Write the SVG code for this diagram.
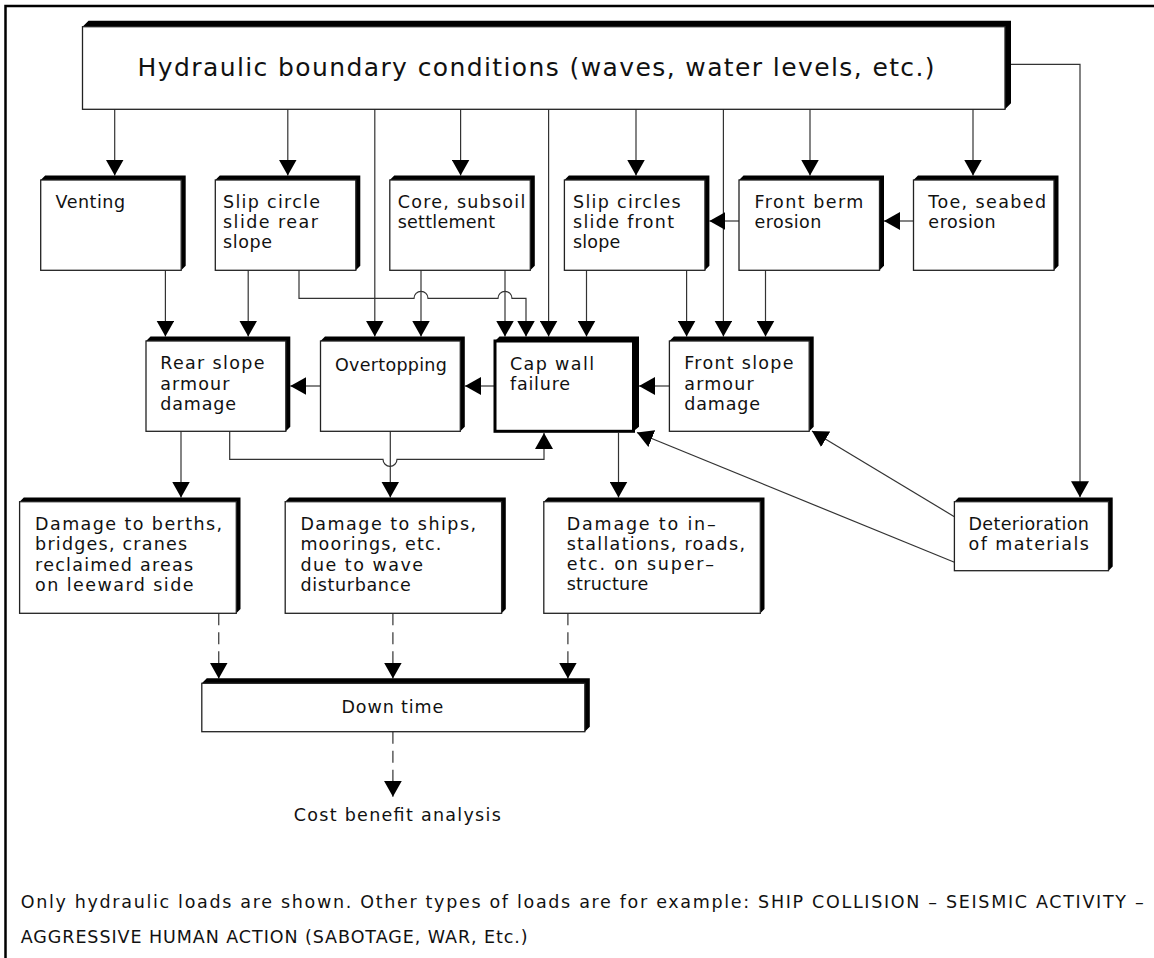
<svg xmlns="http://www.w3.org/2000/svg" width="1154" height="958" viewBox="0 0 1154 958">
<style>
.sh{fill:#000}
.bd{fill:#fff;stroke:#222;stroke-width:1.3}
.bdk{fill:#fff;stroke:#000;stroke-width:3}
.t{font-family:"DejaVu Sans","Liberation Sans",Arial,sans-serif;font-size:17.5px;fill:#111}
.tl{font-family:"DejaVu Sans","Liberation Sans",Arial,sans-serif;font-size:25px;fill:#111}
.c{fill:none;stroke:#333;stroke-width:1.2}
.d{fill:none;stroke:#333;stroke-width:1.2;stroke-dasharray:12 7}
</style>
<defs>
<marker id="ah" viewBox="0 0 16 18" refX="16" refY="9" markerWidth="16" markerHeight="18" markerUnits="userSpaceOnUse" orient="auto">
<path d="M0,0 L16,9 L0,18 z" fill="#000"/>
</marker>
</defs>
<rect width="1154" height="958" fill="#fff"/>
<polyline points="5.5,958 5.5,6 1154,6" fill="none" stroke="#000" stroke-width="2.5"/>

<g id="connectors">
<path class="c" marker-end="url(#ah)" d="M114.7,109.3 V175.5"/>
<path class="c" marker-end="url(#ah)" d="M287.8,109.3 V175.5"/>
<path class="c" marker-end="url(#ah)" d="M374.8,109.3 V336.5"/>
<path class="c" marker-end="url(#ah)" d="M460.6,109.3 V175.5"/>
<path class="c" marker-end="url(#ah)" d="M548.6,109.3 V336.5"/>
<path class="c" marker-end="url(#ah)" d="M636,109.3 V175.5"/>
<path class="c" marker-end="url(#ah)" d="M723.4,109.3 V336.5"/>
<path class="c" marker-end="url(#ah)" d="M810,109.3 V175.5"/>
<path class="c" marker-end="url(#ah)" d="M973,109.3 V175.5"/>
<path class="c" marker-end="url(#ah)" d="M1011,64.3 H1080 V497.3"/>
<path class="c" marker-end="url(#ah)" d="M913.5,221 H884"/>
<path class="c" marker-end="url(#ah)" d="M739,221 H709.4"/>
<path class="c" marker-end="url(#ah)" d="M165.4,270.3 V336.5"/>
<path class="c" marker-end="url(#ah)" d="M248.2,270.3 V336.5"/>
<path class="c" marker-end="url(#ah)" d="M299,270.3 V298.3 H414 A7,7 0 0 1 428,298.3 H498 A7,7 0 0 1 512,298.3 H526 V336.5"/>
<path class="c" marker-end="url(#ah)" d="M421,270.3 V336.5"/>
<path class="c" marker-end="url(#ah)" d="M505,270.3 V336.5"/>
<path class="c" marker-end="url(#ah)" d="M586.5,270.3 V336.5"/>
<path class="c" marker-end="url(#ah)" d="M686.6,270.3 V336.5"/>
<path class="c" marker-end="url(#ah)" d="M765.5,270.3 V336.5"/>
<path class="c" marker-end="url(#ah)" d="M669.4,386 H639"/>
<path class="c" marker-end="url(#ah)" d="M495,386 H465"/>
<path class="c" marker-end="url(#ah)" d="M320.5,386 H290.3"/>
<path class="c" marker-end="url(#ah)" d="M181,431.3 V497.5"/>
<path class="c" marker-end="url(#ah)" d="M229.7,431.3 V459.3 H383 A7,7 0 0 0 397,459.3 H544 V433"/>
<path class="c" marker-end="url(#ah)" d="M390.3,431.3 V497.5"/>
<path class="c" marker-end="url(#ah)" d="M618.5,432.8 V497.5"/>
<path class="c" marker-end="url(#ah)" d="M954.4,516.7 L812,431"/>
<path class="c" marker-end="url(#ah)" d="M954.4,562.3 L637,432.5"/>
<path class="d" marker-end="url(#ah)" d="M218.75,613.3 V678.5"/>
<path class="d" marker-end="url(#ah)" d="M392.9,613.3 V678.5"/>
<path class="d" marker-end="url(#ah)" d="M567.9,613.3 V678.5"/>
<path class="d" marker-end="url(#ah)" d="M392.9,731.7 V796.7"/>
</g>

<g id="n-hydraulic">
<polygon class="sh" points="82.5,26.7 88.5,20.7 1011,20.7 1011,103.3 1005,109.3 1005,26.7"/>
<rect class="bd" x="82.5" y="26.7" width="922.5" height="82.6"/>
<text class="tl" x="137.6" y="76" textLength="797" lengthAdjust="spacing">Hydraulic boundary conditions (waves, water levels, etc.)</text>
</g>

<g id="n-venting">
<polygon class="sh" points="40.7,180 45.2,175.5 185.7,175.5 185.7,265.8 181.2,270.3 181.2,180"/>
<rect class="bd" x="40.7" y="180" width="140.5" height="90.3"/>
<text class="t" x="55.5" y="208.3" textLength="69.5" lengthAdjust="spacing">Venting</text>
</g>

<g id="n-slip-rear">
<polygon class="sh" points="215.3,180 219.8,175.5 360.3,175.5 360.3,265.8 355.8,270.3 355.8,180"/>
<rect class="bd" x="215.3" y="180" width="140.5" height="90.3"/>
<text class="t" x="223" y="208.3" textLength="97" lengthAdjust="spacing">Slip circle</text>
<text class="t" x="223" y="228.3" textLength="95" lengthAdjust="spacing">slide rear</text>
<text class="t" x="223" y="248.3" textLength="49" lengthAdjust="spacing">slope</text>
</g>

<g id="n-core">
<polygon class="sh" points="389.8,180 394.3,175.5 534.8,175.5 534.8,265.8 530.3,270.3 530.3,180"/>
<rect class="bd" x="389.8" y="180" width="140.5" height="90.3"/>
<text class="t" x="397.7" y="208.3" textLength="127.6" lengthAdjust="spacing">Core, subsoil</text>
<text class="t" x="397.7" y="228.3" textLength="97.3" lengthAdjust="spacing">settlement</text>
</g>

<g id="n-slip-front">
<polygon class="sh" points="564.4,180 568.9,175.5 709.4,175.5 709.4,265.8 704.9,270.3 704.9,180"/>
<rect class="bd" x="564.4" y="180" width="140.5" height="90.3"/>
<text class="t" x="573" y="208.3" textLength="107.6" lengthAdjust="spacing">Slip circles</text>
<text class="t" x="573" y="228.3" textLength="101" lengthAdjust="spacing">slide front</text>
<text class="t" x="573" y="248.3" textLength="47.3" lengthAdjust="spacing">slope</text>
</g>

<g id="n-front-berm">
<polygon class="sh" points="739,180 743.5,175.5 884,175.5 884,265.8 879.5,270.3 879.5,180"/>
<rect class="bd" x="739" y="180" width="140.5" height="90.3"/>
<text class="t" x="754.4" y="208.3" textLength="109" lengthAdjust="spacing">Front berm</text>
<text class="t" x="754.4" y="228.3" textLength="67" lengthAdjust="spacing">erosion</text>
</g>

<g id="n-toe">
<polygon class="sh" points="913.5,180 918,175.5 1058.5,175.5 1058.5,265.8 1054,270.3 1054,180"/>
<rect class="bd" x="913.5" y="180" width="140.5" height="90.3"/>
<text class="t" x="928.3" y="208.3" textLength="117.7" lengthAdjust="spacing">Toe, seabed</text>
<text class="t" x="928.3" y="228.3" textLength="67.4" lengthAdjust="spacing">erosion</text>
</g>

<g id="n-rear-slope">
<polygon class="sh" points="146,341 150.5,336.5 290.3,336.5 290.3,426.8 285.8,431.3 285.8,341"/>
<rect class="bd" x="146" y="341" width="139.8" height="90.3"/>
<text class="t" x="160.2" y="369" textLength="104.3" lengthAdjust="spacing">Rear slope</text>
<text class="t" x="160.2" y="389.5" textLength="69.2" lengthAdjust="spacing">armour</text>
<text class="t" x="160.2" y="410" textLength="75.8" lengthAdjust="spacing">damage</text>
</g>

<g id="n-overtopping">
<polygon class="sh" points="320.5,341 325,336.5 464.8,336.5 464.8,426.8 460.3,431.3 460.3,341"/>
<rect class="bd" x="320.5" y="341" width="139.8" height="90.3"/>
<text class="t" x="335" y="371" textLength="111.8" lengthAdjust="spacing">Overtopping</text>
</g>

<g id="n-cap-wall">
<polygon class="sh" points="495,341 499.5,336.5 639,336.5 639,426.8 633.5,431.3 633.5,341"/>
<rect class="bdk" x="495" y="341" width="138.5" height="90.3"/>
<text class="t" x="510" y="370" textLength="84" lengthAdjust="spacing">Cap wall</text>
<text class="t" x="510" y="389.5" textLength="60" lengthAdjust="spacing">failure</text>
</g>

<g id="n-front-slope">
<polygon class="sh" points="669.4,341 673.9,336.5 813.7,336.5 813.7,426.8 809.2,431.3 809.2,341"/>
<rect class="bd" x="669.4" y="341" width="139.8" height="90.3"/>
<text class="t" x="684.3" y="369" textLength="109.2" lengthAdjust="spacing">Front slope</text>
<text class="t" x="684.3" y="389.5" textLength="69.3" lengthAdjust="spacing">armour</text>
<text class="t" x="684.3" y="410" textLength="75.7" lengthAdjust="spacing">damage</text>
</g>

<g id="n-damage-berths">
<polygon class="sh" points="19.6,501.7 23.8,497.5 240.5,497.5 240.5,609.1 236.3,613.3 236.3,501.7"/>
<rect class="bd" x="19.6" y="501.7" width="216.7" height="111.6"/>
<text class="t" x="35.1" y="530" textLength="187" lengthAdjust="spacing">Damage to berths,</text>
<text class="t" x="35.1" y="550" textLength="152" lengthAdjust="spacing">bridges, cranes</text>
<text class="t" x="35.1" y="570.5" textLength="158" lengthAdjust="spacing">reclaimed areas</text>
<text class="t" x="35.1" y="590.5" textLength="158.4" lengthAdjust="spacing">on leeward side</text>
</g>

<g id="n-damage-ships">
<polygon class="sh" points="285.2,501.7 289.4,497.5 505.8,497.5 505.8,609.1 501.6,613.3 501.6,501.7"/>
<rect class="bd" x="285.2" y="501.7" width="216.4" height="111.6"/>
<text class="t" x="300.4" y="530" textLength="175.7" lengthAdjust="spacing">Damage to ships,</text>
<text class="t" x="300.4" y="550" textLength="141" lengthAdjust="spacing">moorings, etc.</text>
<text class="t" x="300.4" y="570.5" textLength="122.6" lengthAdjust="spacing">due to wave</text>
<text class="t" x="300.4" y="590.5" textLength="110.3" lengthAdjust="spacing">disturbance</text>
</g>

<g id="n-damage-installations">
<polygon class="sh" points="543.8,501.7 548,497.5 764.5,497.5 764.5,609.1 760.3,613.3 760.3,501.7"/>
<rect class="bd" x="543.8" y="501.7" width="216.5" height="111.6"/>
<text class="t" x="566.7" y="529.5" textLength="149" lengthAdjust="spacing">Damage to in–</text>
<text class="t" x="566.7" y="549.5" textLength="178.3" lengthAdjust="spacing">stallations, roads,</text>
<text class="t" x="566.7" y="570" textLength="147.3" lengthAdjust="spacing">etc. on super–</text>
<text class="t" x="566.7" y="590" textLength="81.6" lengthAdjust="spacing">structure</text>
</g>

<g id="n-deterioration">
<polygon class="sh" points="954.4,501.7 958.6,497.5 1112.7,497.5 1112.7,566.5 1108.5,570.7 1108.5,501.7"/>
<rect class="bd" x="954.4" y="501.7" width="154.1" height="69"/>
<text class="t" x="968.5" y="530" textLength="120.3" lengthAdjust="spacing">Deterioration</text>
<text class="t" x="968.5" y="550" textLength="120.3" lengthAdjust="spacing">of materials</text>
</g>

<g id="n-down-time">
<polygon class="sh" points="201.8,683.3 206.8,678.3 589.8,678.3 589.8,726.7 584.8,731.7 584.8,683.3"/>
<rect class="bd" x="201.8" y="683.3" width="383" height="48.4"/>
<text class="t" x="341.5" y="712.7" textLength="101.8" lengthAdjust="spacing">Down time</text>
</g>

<g id="n-cost-benefit">
<text class="t" x="293.8" y="820.7" textLength="207" lengthAdjust="spacing">Cost benefit analysis</text>
</g>

<g id="footnote">
<text class="t" x="20.7" y="907.5" textLength="1123" lengthAdjust="spacing">Only hydraulic loads are shown. Other types of loads are for example: SHIP COLLISION – SEISMIC ACTIVITY –</text>
<text class="t" x="20.7" y="943" textLength="507" lengthAdjust="spacing">AGGRESSIVE HUMAN ACTION (SABOTAGE, WAR, Etc.)</text>
</g>
</svg>
